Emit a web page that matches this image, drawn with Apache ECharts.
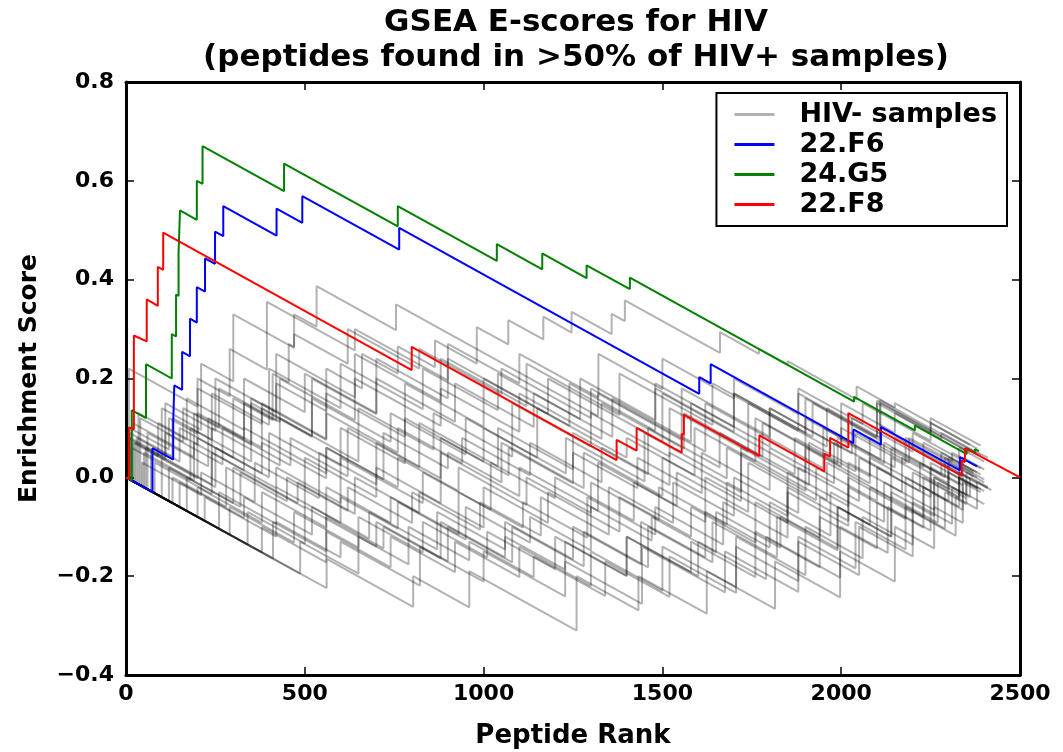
<!DOCTYPE html>
<html>
<head>
<meta charset="utf-8">
<script src="https://cdn.jsdelivr.net/npm/echarts@6/dist/echarts.min.js"></script>
<style>
  html, body { margin: 0; padding: 0; background: #fff; }
  #chart { width: 1063px; height: 752px; }
</style>
</head>
<body>
<div id="chart"></div>
<script>
// x ticks / y ticks
const rankTicks = [0, 500, 1000, 1500, 2000, 2500]
const scoreTicks = [-0.4, -0.2, 0.0, 0.2, 0.4, 0.6, 0.8]

// each hit: [peptide rank, score just before the hit, score just after it]
const f6Hits = [[74,-0.03,0.059],[132,0.036,0.11],[135,0.109,0.186],[157,0.177,0.254],[179,0.245,0.321],[198,0.313,0.385],[221,0.376,0.443],[249,0.432,0.497],[272,0.488,0.549],[421,0.489,0.544],[493,0.515,0.569],[764,0.461,0.505],[1603,0.169,0.203],[1635,0.19,0.229],[2034,0.069,0.097],[2111,0.066,0.102],[2332,0.014,0.041]]
const f6End = [2380, 0.022]

const g5Hits = [[16,-0.006,0.136],[56,0.12,0.229],[128,0.2,0.29],[140,0.285,0.37],[147,0.367,0.455],[151,0.453,0.54],[198,0.521,0.6],[214,0.594,0.67],[442,0.579,0.635],[760,0.508,0.549],[1037,0.438,0.472],[1164,0.421,0.453],[1288,0.403,0.429],[1409,0.381,0.404],[2036,0.153,0.163],[2206,0.095,0.105],[2351,0.047,0.059],[2374,0.05,0.057]]
const g5End = [2385, 0.053]

const f8Hits = [[8,-0.003,0.101],[22,0.097,0.287],[58,0.275,0.36],[89,0.347,0.426],[104,0.42,0.495],[799,0.217,0.264],[1372,0.035,0.076],[1428,0.054,0.1],[1554,0.05,0.088],[1560,0.086,0.127],[1771,0.043,0.085],[1953,0.012,0.048],[1969,0.042,0.08],[2020,0.06,0.13],[2337,0.003,0.034],[2346,0.031,0.059]]
const f8End = [2500, 0.0]

// HIV- samples
const negHits = [
  [[30,-0.012,0.08],[150,0.032,0.1],[300,0.04,0.16],[410,0.116,0.21],[455,0.192,0.27],[470,0.264,0.33],[533,0.305,0.387],[755,0.298,0.35],[1320,0.124,0.17],[1554,0.076,0.18],[1800,0.082,0.14],[2030,0.048,0.12],[2200,0.052,0.09],[2330,0.038,0.06]],
  [[20,-0.008,0.07],[90,0.042,0.11],[200,0.066,0.13],[330,0.078,0.15],[420,0.114,0.19],[560,0.134,0.22],[660,0.18,0.25],[760,0.21,0.265],[864,0.223,0.277],[981,0.23,0.304],[1069,0.269,0.318],[1167,0.279,0.325],[1246,0.293,0.335],[1358,0.29,0.331],[1395,0.316,0.358],[1661,0.252,0.294],[1770,0.25,0.26],[1850,0.228,0.235],[2043,0.158,0.184],[2150,0.141,0.15]],
  [[10,-0.004,0.1],[120,0.056,0.12],[200,0.088,0.2],[290,0.164,0.26],[394,0.218,0.355],[640,0.257,0.3],[900,0.196,0.24],[1180,0.128,0.2],[1500,0.072,0.17],[1900,0.01,0.12],[2110,0.036,0.1],[2280,0.032,0.05]],
  [[5,-0.002,0.08],[100,0.042,0.14],[210,0.096,0.23],[300,0.194,0.33],[470,0.262,0.29],[620,0.23,0.3],[820,0.22,0.26],[1050,0.168,0.22],[1300,0.12,0.18],[1620,0.052,0.15],[1950,0.018,0.1],[2150,0.02,0.08],[2300,0.02,0.04]],
  [[15,-0.006,0.06],[180,-0.006,0.1],[350,0.032,0.15],[520,0.082,0.2],[700,0.128,0.24],[900,0.16,0.27],[1100,0.19,0.25],[1321,0.162,0.25],[1500,0.178,0.24],[1700,0.16,0.2],[1880,0.128,0.18],[2060,0.108,0.15],[2250,0.074,0.1]],
  [[40,-0.016,0.12],[160,0.072,0.14],[260,0.1,0.18],[430,0.112,0.2],[640,0.116,0.2],[880,0.104,0.18],[1100,0.092,0.17],[1330,0.078,0.15],[1560,0.058,0.13],[1780,0.042,0.11],[2000,0.022,0.1],[2180,0.028,0.08],[2330,0.02,0.03]],
  [[60,-0.024,0.09],[230,0.022,0.12],[380,0.06,0.14],[520,0.084,0.16],[740,0.072,0.13],[950,0.046,0.12],[1150,0.04,0.14],[1400,0.04,0.08],[1590,0.004,0.1],[1760,0.032,0.12],[1990,0.028,0.08],[2120,0.028,0.07],[2280,0.006,0.03]],
  [[25,-0.01,0.07],[110,0.036,0.09],[270,0.026,0.1],[460,0.024,0.08],[600,0.024,0.1],[780,0.028,0.12],[1000,0.032,0.1],[1230,0.008,0.08],[1450,-0.008,0.09],[1680,-0.002,0.06],[1900,-0.028,0.06],[2080,-0.012,0.04],[2250,-0.028,0.02]],
  [[50,-0.02,0.05],[190,-0.006,0.07],[330,0.014,0.1],[560,0.008,0.06],[720,-0.004,0.09],[900,0.018,0.05],[1050,-0.01,0.07],[1280,-0.022,0.05],[1500,-0.038,0.04],[1720,-0.048,0.05],[1960,-0.046,0.03],[2140,-0.042,0.04],[2300,-0.024,0.02]],
  [[80,-0.032,0.03],[240,-0.034,0.05],[420,-0.022,0.02],[600,-0.052,0.04],[830,-0.052,0.01],[1020,-0.066,0.03],[1200,-0.042,0.0],[1420,-0.088,-0.01],[1620,-0.09,0.0],[1850,-0.092,-0.02],[2020,-0.088,0.0],[2200,-0.072,0.01],[2330,-0.042,0.0]],
  [[120,-0.048,0.02],[320,-0.06,0.01],[500,-0.062,0.04],[700,-0.04,0.02],[880,-0.052,0.05],[1100,-0.038,0.02],[1320,-0.068,0.03],[1540,-0.058,0.01],[1740,-0.07,0.03],[1930,-0.046,0.02],[2100,-0.048,0.02],[2250,-0.04,0.03]],
  [[170,-0.068,0.0],[300,-0.052,0.02],[480,-0.052,-0.01],[640,-0.074,0.0],[820,-0.072,-0.03],[1000,-0.102,-0.02],[1180,-0.092,-0.03],[1380,-0.11,-0.04],[1580,-0.12,-0.06],[1760,-0.132,-0.05],[1940,-0.122,-0.04],[2080,-0.096,-0.02],[2230,-0.08,0.0],[2330,-0.04,0.01]],
  [[260,-0.104,-0.03],[420,-0.094,-0.02],[600,-0.092,-0.04],[760,-0.104,-0.05],[950,-0.126,-0.06],[1130,-0.132,-0.08],[1300,-0.148,-0.06],[1470,-0.128,-0.08],[1650,-0.152,-0.07],[1830,-0.142,-0.08],[1990,-0.144,-0.06],[2140,-0.12,-0.03],[2260,-0.078,0.0],[2340,-0.032,0.02]],
  [[411,-0.164,-0.09],[560,-0.15,-0.08],[720,-0.144,-0.1],[880,-0.164,-0.09],[1060,-0.162,-0.12],[1228,-0.187,-0.13],[1400,-0.199,-0.12],[1580,-0.192,-0.13],[1760,-0.202,-0.11],[1940,-0.182,-0.08],[2100,-0.144,-0.05],[2230,-0.102,-0.02],[2330,-0.06,0.0]],
  [[487,-0.195,-0.13],[650,-0.195,-0.12],[790,-0.176,-0.1],[960,-0.168,-0.13],[1140,-0.202,-0.16],[1340,-0.24,-0.17],[1520,-0.242,-0.16],[1706,-0.234,-0.14],[1880,-0.21,-0.12],[2040,-0.184,-0.09],[2180,-0.146,-0.06],[2290,-0.104,-0.03],[2350,-0.054,-0.01]],
  [[561,-0.224,-0.165],[803,-0.262,-0.2],[960,-0.263,-0.19],[1260,-0.31,-0.2],[1433,-0.269,-0.2],[1624,-0.276,-0.19],[1815,-0.266,-0.17],[1997,-0.243,-0.15],[2150,-0.211,-0.1],[2260,-0.144,-0.06],[2340,-0.092,-0.03]],
  [[340,-0.136,-0.07],[500,-0.134,-0.06],[700,-0.14,-0.09],[900,-0.17,-0.1],[1080,-0.172,-0.1],[1280,-0.18,-0.11],[1460,-0.182,-0.1],[1640,-0.172,-0.09],[1820,-0.162,-0.08],[1990,-0.148,-0.06],[2140,-0.12,-0.04],[2270,-0.092,-0.01]],
  [[220,-0.088,-0.04],[420,-0.12,-0.09],[600,-0.162,-0.13],[822,-0.219,-0.14],[1000,-0.211,-0.15],[1228,-0.241,-0.17],[1443,-0.256,-0.14],[1675,-0.233,-0.15],[1880,-0.232,-0.13],[2050,-0.198,-0.1],[2200,-0.16,-0.07],[2320,-0.118,-0.04],[2380,-0.064,-0.01]],
  [[130,-0.052,0.0],[280,-0.06,0.02],[450,-0.048,0.0],[620,-0.068,-0.02],[800,-0.092,-0.03],[990,-0.106,-0.05],[1160,-0.118,-0.04],[1350,-0.116,-0.02],[1530,-0.092,-0.01],[1700,-0.078,0.0],[1880,-0.072,0.02],[2050,-0.048,0.04],[2220,-0.028,0.03],[2330,-0.014,0.02]],
  [[70,-0.028,0.05],[200,-0.002,0.08],[380,0.008,0.07],[560,-0.002,0.06],[760,-0.02,0.04],[930,-0.028,0.02],[1120,-0.056,0.0],[1300,-0.072,-0.01],[1490,-0.086,-0.02],[1680,-0.096,-0.01],[1850,-0.078,0.01],[2020,-0.058,0.03],[2170,-0.03,0.04],[2300,-0.012,0.03]],
  [[10,-0.004,0.09],[130,0.042,0.12],[240,0.076,0.17],[400,0.106,0.22],[600,0.14,0.23],[830,0.138,0.22],[1040,0.136,0.21],[1270,0.118,0.2],[1480,0.116,0.19],[1700,0.102,0.17],[1920,0.082,0.15],[2108,0.075,0.156],[2250,0.099,0.12]],
  [[35,-0.014,0.13],[170,0.076,0.16],[330,0.096,0.2],[500,0.132,0.21],[700,0.13,0.2],[920,0.112,0.19],[1140,0.102,0.17],[1360,0.082,0.16],[1580,0.072,0.15],[1800,0.062,0.14],[2000,0.06,0.15],[2150,0.09,0.13],[2280,0.078,0.09],[2360,0.058,0.06]],
  [[8,-0.003,0.22],[200,0.143,0.18],[380,0.108,0.15],[560,0.078,0.13],[760,0.05,0.1],[940,0.028,0.08],[1130,0.004,0.07],[1330,-0.01,0.06],[1520,-0.016,0.05],[1720,-0.03,0.06],[1910,-0.016,0.07],[2080,0.002,0.08],[2230,0.02,0.07],[2340,0.026,0.04]],
  [[150,-0.06,-0.01],[330,-0.082,-0.04],[520,-0.116,-0.06],[680,-0.124,-0.07],[870,-0.146,-0.07],[1060,-0.146,-0.09],[1250,-0.166,-0.1],[1440,-0.176,-0.09],[1620,-0.162,-0.07],[1800,-0.142,-0.05],[1970,-0.118,-0.03],[2120,-0.09,-0.01],[2260,-0.066,0.0],[2350,-0.036,0.01]],
  [[100,-0.04,0.04],[250,-0.02,0.06],[400,0.0,0.09],[620,0.002,0.1],[820,0.02,0.11],[1040,0.022,0.1],[1250,0.016,0.09],[1460,0.006,0.1],[1660,0.02,0.09],[1870,0.006,0.08],[2040,0.012,0.09],[2190,0.03,0.08],[2310,0.032,0.05]],
  [[290,-0.116,-0.06],[470,-0.132,-0.07],[650,-0.142,-0.08],[830,-0.152,-0.09],[1010,-0.162,-0.11],[1200,-0.186,-0.12],[1400,-0.2,-0.12],[1600,-0.2,-0.13],[1790,-0.206,-0.12],[1997,-0.203,-0.1],[2130,-0.153,-0.06],[2250,-0.108,-0.03],[2340,-0.066,-0.01]],
  [[380,-0.152,-0.1],[560,-0.172,-0.11],[740,-0.182,-0.12],[920,-0.192,-0.13],[1100,-0.202,-0.14],[1300,-0.22,-0.15],[1500,-0.23,-0.14],[1706,-0.222,-0.12],[1900,-0.198,-0.1],[2060,-0.164,-0.08],[2200,-0.136,-0.05],[2310,-0.094,-0.02],[2360,-0.04,0.0]],
  [[45,-0.018,0.03],[210,-0.036,0.01],[360,-0.05,0.03],[540,-0.042,0.05],[700,-0.014,0.07],[880,-0.002,0.08],[1070,0.004,0.06],[1250,-0.012,0.05],[1430,-0.022,0.04],[1610,-0.032,0.05],[1800,-0.026,0.06],[1980,-0.012,0.07],[2140,0.006,0.06],[2290,0.0,0.04]],
  [[18,-0.007,0.11],[190,0.041,0.13],[350,0.066,0.16],[560,0.076,0.17],[780,0.082,0.19],[1000,0.102,0.2],[1240,0.104,0.19],[1480,0.094,0.18],[1700,0.092,0.17],[1900,0.09,0.16],[2100,0.08,0.155]],
  [[55,-0.022,0.06],[240,-0.014,0.1],[430,0.024,0.12],[650,0.032,0.14],[860,0.056,0.13],[1080,0.042,0.15],[1300,0.062,0.13],[1520,0.042,0.14],[1740,0.052,0.15],[1960,0.062,0.14],[2110,0.08,0.15]],
  [[200,-0.08,-0.02],[380,-0.092,-0.03],[560,-0.102,-0.02],[740,-0.092,-0.04],[930,-0.116,-0.03],[1110,-0.102,-0.05],[1290,-0.122,-0.04],[1480,-0.116,-0.06],[1670,-0.136,-0.05],[1850,-0.122,-0.03],[2020,-0.098,-0.02],[2180,-0.084,0.0],[2300,-0.048,0.01]],
  [[12,-0.005,0.08],[110,0.041,0.15],[250,0.094,0.2],[420,0.132,0.25],[640,0.162,0.25],[880,0.154,0.24],[1120,0.144,0.23],[1380,0.126,0.21],[1640,0.106,0.19],[1880,0.094,0.17],[2100,0.082,0.15],[2250,0.09,0.11]]
]
const negEnds = [[2400,0.032],[2380,0.058],[2380,0.01],[2370,0.012],[2390,0.044],[2390,0.006],[2360,-0.002],[2340,-0.016],[2380,-0.012],[2400,-0.028],[2350,-0.01],[2410,-0.022],[2400,-0.004],[2390,-0.024],[2380,-0.022],[2400,-0.054],[2350,-0.042],[2420,-0.026],[2380,0.0],[2370,0.002],[2390,0.064],[2410,0.04],[2400,0.016],[2400,-0.01],[2390,0.018],[2390,-0.03],[2410,-0.02],[2370,0.008],[2360,0.051],[2350,0.054],[2380,-0.022],[2360,0.066]]

const FONT = 'DejaVu Sans'

function toPath (hits, end) {
  const pts = [[0, 0]]
  hits.forEach(h => {
    pts.push([h[0], h[1]])
    pts.push([h[0], h[2]])
  })
  pts.push(end)
  return pts
}

const lineBase = {
  type: 'line',
  showSymbol: false,
  symbol: 'none',
  silent: true,
  animation: false
}

const series = negHits.map((hits, i) => ({
  ...lineBase,
  name: 'HIV- samples',
  data: toPath(hits, negEnds[i]),
  color: 'rgba(0,0,0,0.3)',
  lineStyle: { color: 'rgba(0,0,0,0.3)', width: 2 }
}))
series.push({ ...lineBase, name: '22.F6', data: toPath(f6Hits, f6End), color: '#0000ff', lineStyle: { color: '#0000ff', width: 2 } })
series.push({ ...lineBase, name: '24.G5', data: toPath(g5Hits, g5End), color: '#008000', lineStyle: { color: '#008000', width: 2 } })
series.push({ ...lineBase, name: '22.F8', data: toPath(f8Hits, f8End), color: '#ff0000', lineStyle: { color: '#ff0000', width: 2 } })

const tickStyle = { inside: true, length: 8, lineStyle: { color: '#000', width: 1.5 } }
const spine = { show: true, onZero: false, lineStyle: { color: '#000', width: 3 } }
const labelStyle = { color: '#000', fontSize: 22, fontWeight: 'bold', fontFamily: FONT }

const xRange = { min: rankTicks[0], max: rankTicks[rankTicks.length - 1], interval: rankTicks[1] - rankTicks[0] }
const yRange = { min: scoreTicks[0], max: scoreTicks[scoreTicks.length - 1], interval: 0.2 }

const chart = echarts.init(document.getElementById('chart'))
chart.setOption({
  backgroundColor: '#fff',
  animation: false,
  title: {
    text: 'GSEA E-scores for HIV\n(peptides found in >50% of HIV+ samples)',
    left: 571,
    top: 0,
    textAlign: 'center',
    textStyle: { color: '#000', fontSize: 31, fontWeight: 'bold', fontFamily: FONT, lineHeight: 35 }
  },
  grid: { left: 126, right: 43, top: 82, bottom: 77, outerBoundsMode: 'none' },
  legend: {
    data: ['HIV- samples', '22.F6', '24.G5', '22.F8'],
    orient: 'vertical',
    right: 56,
    top: 93,
    icon: 'rect',
    itemWidth: 40,
    itemHeight: 3,
    itemGap: 3,
    padding: [8, 10, 8, 18],
    borderColor: '#000',
    borderWidth: 2,
    backgroundColor: '#fff',
    selectedMode: false,
    textStyle: { ...labelStyle, fontSize: 27, padding: [0, 0, 0, 20], lineHeight: 27 }
  },
  xAxis: [
    {
      type: 'value', ...xRange, position: 'bottom',
      axisLine: spine, axisTick: tickStyle, splitLine: { show: false },
      axisLabel: { ...labelStyle, margin: 8, formatter: v => String(v) },
      name: 'Peptide Rank', nameLocation: 'middle', nameGap: 48,
      nameTextStyle: { ...labelStyle, fontSize: 26 }
    },
    {
      type: 'value', ...xRange, position: 'top',
      axisLine: spine, axisTick: tickStyle, splitLine: { show: false },
      axisLabel: { show: false }
    }
  ],
  yAxis: [
    {
      type: 'value', ...yRange, position: 'left',
      axisLine: spine, axisTick: tickStyle, splitLine: { show: false },
      axisLabel: {
        ...labelStyle, margin: 12,
        formatter: v => (v < -1e-9 ? '\u2212' : '') + Math.abs(v).toFixed(1)
      },
      name: 'Enrichment Score', nameLocation: 'middle', nameGap: 84,
      nameTextStyle: { ...labelStyle, fontSize: 25 }
    },
    {
      type: 'value', ...yRange, position: 'right',
      axisLine: spine, axisTick: tickStyle, splitLine: { show: false },
      axisLabel: { show: false }
    }
  ],
  series
})
</script>
</body>
</html>
